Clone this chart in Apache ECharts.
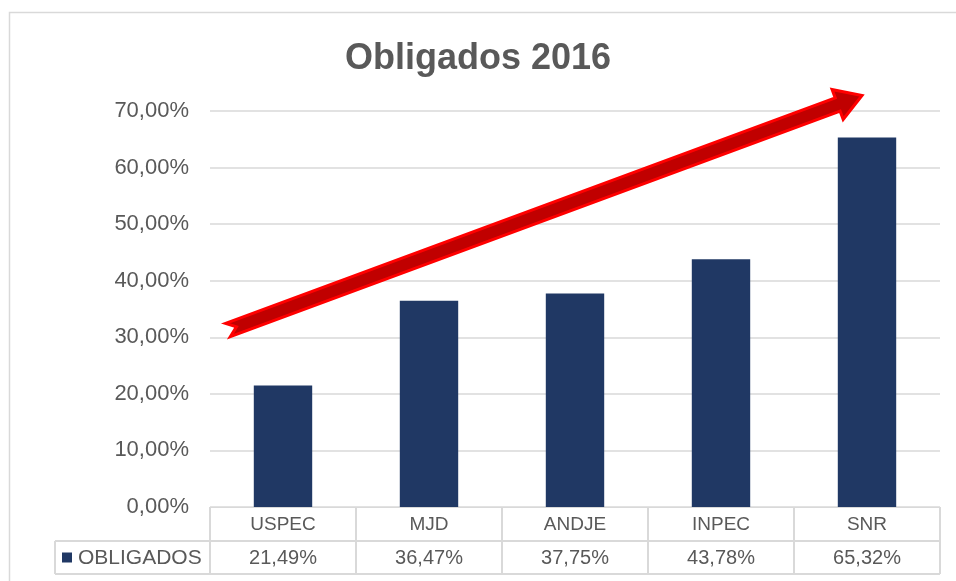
<!DOCTYPE html>
<html>
	<head>
		<meta charset="utf-8">
		<title>Obligados 2016</title>
		<style type="text/css">
			html,body {
				margin: 0;
				padding: 0;
				background: #FFFFFF;
			}
			#chart {
				width: 956px;
				height: 581px;
			}
		</style>
	</head>
	<body>
		<div id="chart"></div>
		<script src="https://cdn.jsdelivr.net/npm/echarts@6/dist/echarts.min.js" type="text/javascript" charset="utf-8"></script>
		<script type="text/javascript">
			var categories = ['USPEC', 'MJD', 'ANDJE', 'INPEC', 'SNR'];
			var obligados = [0.2149, 0.3647, 0.3775, 0.4378, 0.6532];
			var seriesName = 'OBLIGADOS';
			var yTicks = [0, 0.1, 0.2, 0.3, 0.4, 0.5, 0.6, 0.7];

			var fontName = 'Liberation Sans';
			var grey = '#595959';
			var lineGrey = '#D9D9D9';
			var barColor = '#203864';

			// 0,4378 -> "43,78%"
			function pct(v) {
				return (v * 100).toFixed(2).replace('.', ',') + '%';
			}

			var myChart = echarts.init(document.getElementById('chart'));
			var option = {
				animation: false,
				title: {
					text: 'Obligados 2016',
					left: 'center',
					top: 36,
					textStyle: {
						fontFamily: fontName,
						fontSize: 36,
						fontWeight: 'bold',
						color: grey
					}
				},
				grid: {
					left: 210,
					right: 16,
					top: 111,
					bottom: 74
				},
				xAxis: {
					type: 'category',
					data: categories,
					axisLine: { lineStyle: { color: lineGrey } },
					axisTick: { show: false },
					axisLabel: { show: false }
				},
				yAxis: {
					type: 'value',
					min: yTicks[0],
					max: yTicks[yTicks.length - 1],
					interval: 0.1,
					axisLabel: {
						formatter: pct,
						fontFamily: fontName,
						fontSize: 22,
						color: grey,
						margin: 21
					},
					splitLine: { lineStyle: { color: lineGrey, width: 1.5 } }
				},
				series: [{
					name: seriesName,
					type: 'bar',
					data: obligados,
					barWidth: '40%',
					itemStyle: { color: barColor }
				}]
			};
			myChart.setOption(option);

			// tabla de datos debajo del eje + flecha
			var g = [];
			var y0 = myChart.convertToPixel({ yAxisIndex: 0 }, 0);
			var row1 = y0 + 34, row2 = row1 + 33;
			var step = myChart.convertToPixel({ xAxisIndex: 0 }, categories[1]) - myChart.convertToPixel({ xAxisIndex: 0 }, categories[0]);
			var xLeft = myChart.convertToPixel({ xAxisIndex: 0 }, categories[0]) - step / 2;
			var xRight = xLeft + step * categories.length;
			var lineSt = { stroke: lineGrey, lineWidth: 2 };
			function line(x1, y1, x2, y2) {
				g.push({ type: 'line', shape: { x1: x1, y1: y1, x2: x2, y2: y2 }, style: lineSt, silent: true });
			}
			for (var i = 0; i <= categories.length; i++) {
				line(xLeft + step * i, y0, xLeft + step * i, row2);
			}
			line(55, row1, xRight, row1);
			line(55, row2, xRight, row2);
			line(55, row1, 55, row2);
			line(xRight, y0, xRight, row1);
			categories.forEach(function (c, i) {
				var cx = myChart.convertToPixel({ xAxisIndex: 0 }, c);
				g.push({ type: 'text', x: cx, y: (y0 + row1) / 2 + 1, style: { text: c, fontFamily: fontName, fontSize: 19, fill: grey, align: 'center', verticalAlign: 'middle' } });
				g.push({ type: 'text', x: cx, y: (row1 + row2) / 2 + 1, style: { text: pct(obligados[i]), fontFamily: fontName, fontSize: 20, fill: grey, align: 'center', verticalAlign: 'middle' } });
			});
			g.push({ type: 'rect', shape: { x: 62, y: (row1 + row2) / 2 - 5, width: 10, height: 10 }, style: { fill: barColor } });
			g.push({ type: 'text', x: 78, y: (row1 + row2) / 2 + 1, style: { text: seriesName, fontFamily: fontName, fontSize: 21, fill: grey, align: 'left', verticalAlign: 'middle' } });

			// marco exterior
			g.push({ type: 'rect', shape: { x: 9.5, y: 12.5, width: 1000, height: 1000 }, style: { fill: null, stroke: lineGrey, lineWidth: 1.5 }, silent: true });

			// flecha roja de tendencia
			var L = 676, sh = 7, hh = 16, hl = 26;
			g.push({
				type: 'polygon',
				x: 228, y: 330,
				rotation: Math.atan2(233, 630),
				shape: { points: [[0, -sh], [L - hl, -sh], [L - hl, -hh], [L, 0], [L - hl, hh], [L - hl, sh], [0, sh], [9, 0]] },
				style: { fill: '#C00000', stroke: '#FF0000', lineWidth: 3, lineJoin: 'miter' },
				z: 10
			});
			myChart.setOption({ graphic: g });
		</script>
	</body>
</html>
